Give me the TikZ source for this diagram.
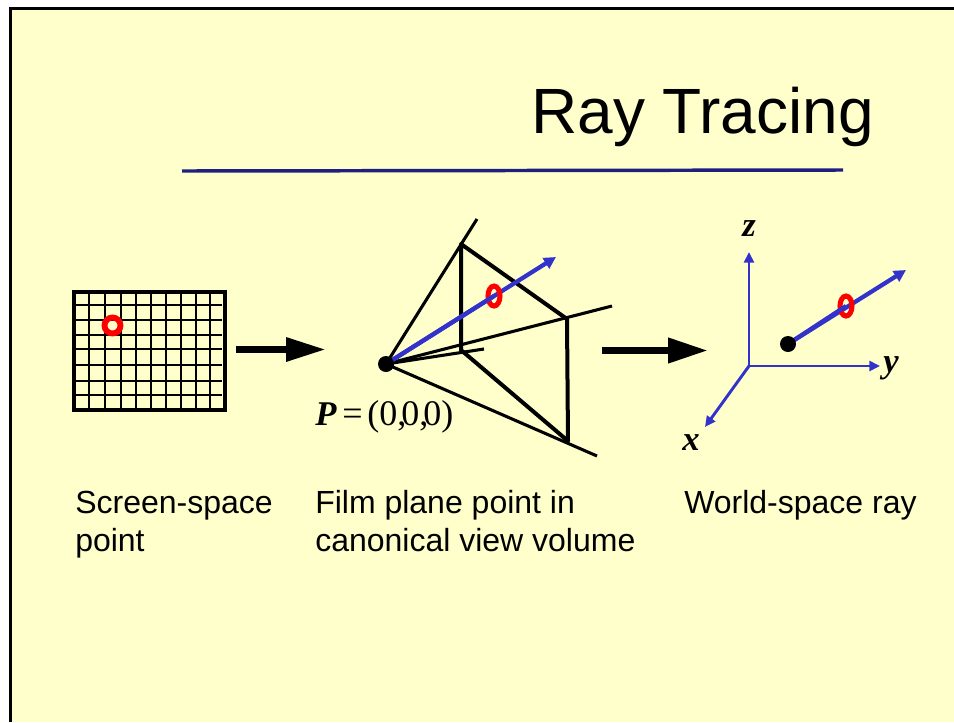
\documentclass[tikz,border=0pt]{standalone}
\usepackage{fontspec}
\setmainfont{Liberation Sans}
\newfontfamily\tms{Liberation Serif}
\usetikzlibrary{arrows.meta}
\definecolor{slide}{HTML}{FFFFCC}
\definecolor{rayblue}{HTML}{3333CC}
\definecolor{rulenavy}{HTML}{1F1F80}
\definecolor{ringred}{HTML}{FF0000}
\tikzset{
  x=0.75pt,y=-0.75pt,
  bodytext/.style={anchor=base west,inner sep=0pt,font=\fontsize{24pt}{30pt}\selectfont},
  titletext/.style={anchor=base west,inner sep=0pt,font=\fontsize{48pt}{56pt}\selectfont},
  mathlabel/.style={anchor=base west,inner sep=0pt,font=\tms\bfseries\itshape\fontsize{26pt}{30pt}\selectfont},
  gridline/.style={draw=black,line width=1.6pt},
  gridframe/.style={draw=black,line width=3pt},
  bigarrow/.style={draw=black,line width=5.4pt,-{Triangle[length=30pt,width=17pt]}},
  frustum/.style={draw=black,line width=3pt,line join=round},
  sight/.style={draw=black,line width=2.3pt},
  blueray/.style={draw=rayblue,line width=3.2pt},
  bluerayarrow/.style={blueray,-{Triangle[length=9pt,width=9pt]}},
  axisarrow/.style={draw=rayblue,line width=2.2pt,-{Triangle[length=8pt,width=7.5pt]}},
  ring/.style={circle,draw=ringred,fill=none,line width=4.4pt,inner sep=0pt,outer sep=0pt},
  dot/.style={circle,fill=black,draw=none,inner sep=0pt,minimum size=12pt},
}
\begin{document}
\begin{tikzpicture}
\useasboundingbox (0,0) rectangle (954,722);
\fill[white] (0,0) rectangle (954,722);
\fill[slide] (10.5,8.5) rectangle (954,722);
\draw[black,line width=2.2pt] (10.5,722) -- (10.5,8.5) -- (954,8.5);
% title
\node[titletext] (title) at (531,133) {Ray Tracing};
\coordinate (ruleL) at (182,171);
\coordinate (ruleR) at (843,170);
\draw[rulenavy,line width=2.6pt] (ruleL) -- (ruleR);
% screen grid
\foreach \xx in {89,105,121,136,151,166,181,196,210}
  \draw[gridline] (\xx,291) -- (\xx,411);
\foreach \yy in {305,320,335,349,365,381,395}
  \draw[gridline] (73,\yy) -- (222,\yy);
\node[gridframe,minimum width=113.5pt,minimum height=88.5pt,inner sep=0pt] (screen) at (149.5,351) {};
\node[ring,minimum size=12pt] (ringA) at (112.5,325.5) {};
% big arrows
\coordinate (a1s) at (236,349.5);
\coordinate (a1e) at (326,349.5);
\draw[bigarrow,-{Triangle[length=30pt,width=17pt]}] (a1s) -- (a1e);
\coordinate (a2s) at (602,350.5);
\coordinate (a2e) at (708,350.5);
\draw[bigarrow,-{Triangle[length=30pt,width=18pt]}] (a2s) -- (a2e);
% frustum
\coordinate (P) at (386,364);
\coordinate (A) at (461,244);
\coordinate (B) at (567,319);
\coordinate (C) at (568,441);
\coordinate (D) at (461,350);
\coordinate (rA) at (477,219);
\coordinate (rB) at (612,306);
\coordinate (rC) at (597,456);
\coordinate (rD) at (484,349);
\draw[sight] (P) -- (rA);
\draw[sight] (P) -- (rB);
\draw[sight] (P) -- (rC);
\draw[sight] (P) -- (rD);
\draw[frustum] (A) -- (B) -- (C) -- (D) -- cycle;
\coordinate (rayEnd) at (556,257);
\coordinate (ringBc) at (494,296);
\draw[bluerayarrow] (P) -- (rayEnd);
\draw[ringred,line width=3.8pt] (ringBc) ellipse [x radius=6,y radius=10];
\draw[blueray] (P) -- (ringBc);
\node[dot] (Pdot) at (P) {};
% P label
\node[anchor=base west,inner sep=0pt,font=\tms\fontsize{27pt}{30pt}\selectfont] (Plabel) at (315,425.5) {{\bfseries\itshape\fontsize{26pt}{30pt}\selectfont P}\hspace{4.5pt}=\hspace{3.5pt}(0,\hspace{-3.75pt}0,\hspace{-3.75pt}0)};
% axes
\coordinate (O) at (749,366);
\coordinate (zEnd) at (749,252);
\coordinate (yEnd) at (880,366);
\coordinate (xEnd) at (705,427);
\draw[axisarrow] (O) -- (zEnd);
\draw[axisarrow] (O) -- (yEnd);
\draw[axisarrow] (O) -- (xEnd);
\node[mathlabel] (zlabel) at (742,236) {z};
\node[mathlabel] (ylabel) at (883,372) {y};
\node[mathlabel] (xlabel) at (682,450) {x};
% world ray
\coordinate (W) at (788,344);
\coordinate (wEnd) at (906,270);
\coordinate (ringCc) at (846,306);
\draw[bluerayarrow] (W) -- (wEnd);
\draw[ringred,line width=3.8pt] (ringCc) ellipse [x radius=6,y radius=10];
\draw[blueray] (W) -- (ringCc);
\node[dot] (Wdot) at (W) {};
% captions
\node[bodytext] (cap1a) at (75,513) {Screen-space};
\node[bodytext] (cap1b) at (75,551) {point};
\node[bodytext] (cap2a) at (315,513) {Film plane point in};
\node[bodytext] (cap2b) at (315,551) {canonical view volume};
\node[bodytext] (cap3) at (684,513) {World-space ray};
\end{tikzpicture}
\end{document}
